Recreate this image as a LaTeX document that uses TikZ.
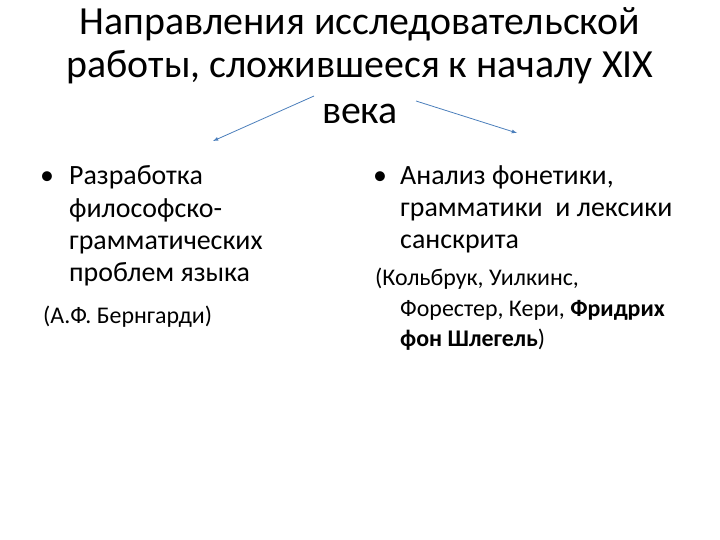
\documentclass[tikz,border=0pt]{standalone}
\usepackage{fontspec}
\setmainfont{Carlito}
\usepackage{tikz}
\tikzset{>=latex}
\usetikzlibrary{calc,positioning}
\definecolor{arrowblue}{HTML}{4A7EBB}
\tikzset{
  titleline/.style={anchor=base, inner sep=0pt, font=\fontsize{40}{44}\selectfont},
  bodyline/.style={anchor=base west, inner sep=0pt, font=\fontsize{28}{32}\selectfont},
  noteline/.style={anchor=base west, inner sep=0pt, font=\fontsize{24}{28}\selectfont},
  dirarrow/.style={->, draw=arrowblue, line width=0.8pt}
}

\begin{document}
\begin{tikzpicture}[x=1bp, y=-1bp]
    \useasboundingbox (0,0) rectangle (720,540);

    % title
    \node[titleline] (t1) at (360,35) {Направления исследовательской};
    \node[titleline] (t2) at (360,78) {работы, сложившееся к началу XIX};
    \node[titleline] (t3) at (360,124) {века};

    % left column
    \node[bodyline] (lb) at (40,185) {\textbullet};
    \node[bodyline] (l1) at (69,185) {Разработка};
    \node[bodyline] (l2) at (69,218) {философско-};
    \node[bodyline] (l3) at (69,250) {грамматических};
    \node[bodyline] (l4) at (69,282) {проблем языка};
    \node[noteline] (l5) at (43,323) {(А.Ф. Бернгарди)};

    % right column
    \node[bodyline] (rb) at (373,185) {\textbullet};
    \node[bodyline] (r1) at (400,185) {Анализ фонетики,};
    \node[bodyline] (r2) at (400,217) {грамматики\ \ и лексики};
    \node[bodyline] (r3) at (400,249) {санскрита};
    \node[noteline] (r4) at (375,286) {(Кольбрук, Уилкинс,};
    \node[noteline] (r5) at (400,316) {Форестер, Кери, \textbf{Фридрих}};
    \node[noteline] (r6) at (400,346) {\textbf{фон Шлегель})};

    % arrows
    \coordinate (la) at (314,96);
    \coordinate (lz) at (213,141);
    \coordinate (ra) at (416,101);
    \coordinate (rz) at (517,133);
    \draw[dirarrow] (la) -- (lz);
    \draw[dirarrow] (ra) -- (rz);
\end{tikzpicture}
\end{document}
